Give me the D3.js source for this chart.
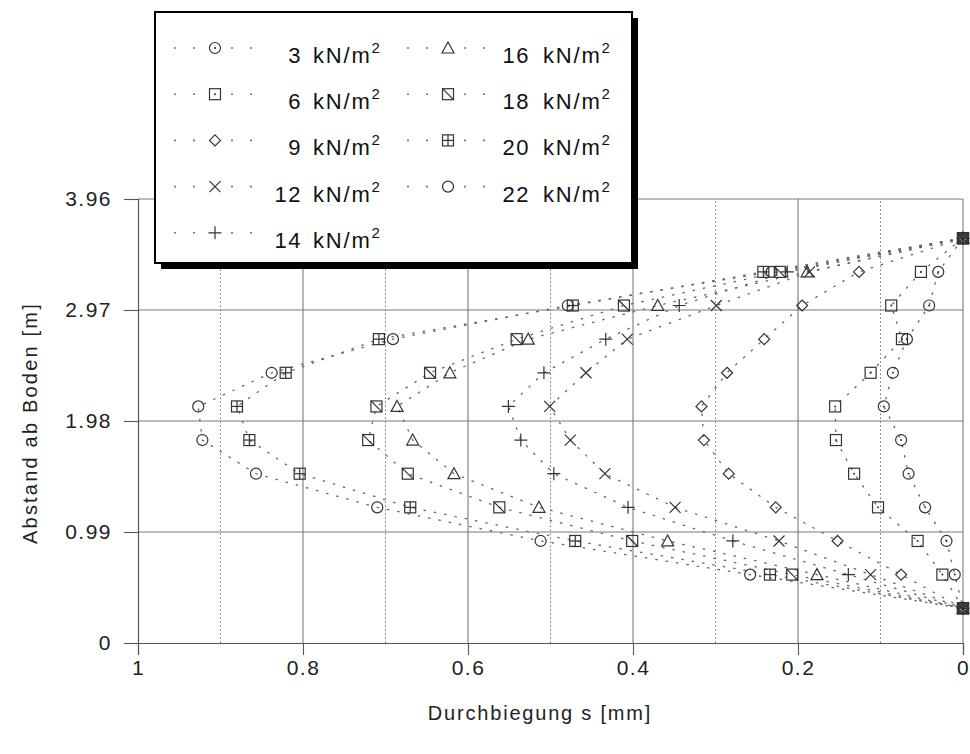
<!DOCTYPE html>
<html><head><meta charset="utf-8">
<script src="https://cdn.jsdelivr.net/npm/d3@7"></script>
<style>body{margin:0;background:#fff}svg{display:block}</style>
</head><body>
<svg id="c" width="970" height="754"></svg>
<script>
// Measurement heights (Abstand ab Boden, m)
const heights = [3.61, 3.31, 3.01, 2.71, 2.41, 2.11, 1.81, 1.51, 1.21, 0.91, 0.61, 0.31];
// Load cases (kN/m2)
const loadLabels = ["3", "6", "9", "12", "14", "16", "18", "20", "22"];
// Deflection s (mm) per load case, at each height above
const s3  = [0, 0.030, 0.041, 0.068, 0.085, 0.096, 0.075, 0.066, 0.046, 0.020, 0.010, 0];
const s6  = [0, 0.051, 0.087, 0.074, 0.112, 0.155, 0.154, 0.132, 0.103, 0.055, 0.025, 0];
const s9  = [0, 0.126, 0.195, 0.241, 0.286, 0.317, 0.314, 0.284, 0.227, 0.152, 0.075, 0];
const s12 = [0, 0.186, 0.299, 0.407, 0.457, 0.501, 0.476, 0.434, 0.349, 0.223, 0.112, 0];
const s14 = [0, 0.213, 0.344, 0.433, 0.508, 0.551, 0.536, 0.496, 0.406, 0.279, 0.139, 0];
const s16 = [0, 0.189, 0.370, 0.527, 0.622, 0.686, 0.667, 0.617, 0.514, 0.358, 0.177, 0];
const s18 = [0, 0.222, 0.411, 0.541, 0.646, 0.711, 0.721, 0.673, 0.562, 0.401, 0.207, 0];
const s20 = [0, 0.242, 0.473, 0.708, 0.821, 0.880, 0.865, 0.804, 0.670, 0.470, 0.234, 0];
const s22 = [0, 0.232, 0.479, 0.691, 0.838, 0.927, 0.922, 0.857, 0.710, 0.512, 0.258, 0];
const markerTypes = ["circleDot", "squareDot", "diamond", "cross", "plus", "triangle", "squareSlash", "squareGrid", "circle"];

const xTicks = [1, 0.8, 0.6, 0.4, 0.2, 0];
const xTickLabels = ["1", "0.8", "0.6", "0.4", "0.2", "0"];
const yTicks = [0, 0.99, 1.98, 2.97, 3.96];
const yTickLabels = ["0", "0.99", "1.98", "2.97", "3.96"];
const xGridSolid = [0.8, 0.6, 0.4, 0.2, 0];
const xGridDotted = [0.9, 0.7, 0.5, 0.3, 0.1];
const yGrid = [0.99, 1.98, 2.97, 3.96];

const seriesValues = [s3, s6, s9, s12, s14, s16, s18, s20, s22];
const series = loadLabels.map((l, i) => ({
  label: l, type: markerTypes[i],
  pts: heights.map((h, j) => ({ s: seriesValues[i][j], h }))
}));

const FONT = "'Liberation Sans', Arial, Helvetica, sans-serif";
const svg = d3.select("#c");
const x = d3.scaleLinear().domain([1, 0]).range([138, 963]);
const y = d3.scaleLinear().domain([0, 3.96]).range([643, 199]);

// grid
const grid = svg.append("g");
grid.selectAll(".hg").data(yGrid).join("line")
  .attr("x1", x(1)).attr("x2", x(0)).attr("y1", d => y(d)).attr("y2", d => y(d))
  .attr("stroke", "#7a7a7a").attr("stroke-width", 1.1);
grid.selectAll(".vs").data(xGridSolid).join("line")
  .attr("x1", d => x(d)).attr("x2", d => x(d)).attr("y1", y(0)).attr("y2", y(3.96))
  .attr("stroke", "#7a7a7a").attr("stroke-width", 1.1);
grid.selectAll(".vd").data(xGridDotted).join("line")
  .attr("x1", d => x(d)).attr("x2", d => x(d)).attr("y1", y(0)).attr("y2", y(3.96))
  .attr("stroke", "#777").attr("stroke-width", 1).attr("stroke-dasharray", "1.5,2.5");

// axes
const xAxis = svg.append("g").attr("transform", `translate(0,${y(0)})`)
  .call(d3.axisBottom(x).tickValues(xTicks).tickSize(12).tickPadding(5)
    .tickFormat((d, i) => xTickLabels[i]));
const yAxis = svg.append("g").attr("transform", `translate(${x(1)},0)`)
  .call(d3.axisLeft(y).tickValues(yTicks).tickSize(14).tickPadding(12)
    .tickFormat((d, i) => yTickLabels[i]));
[xAxis, yAxis].forEach(a => {
  a.select(".domain").attr("stroke", "#555").attr("stroke-width", 1.2);
  a.selectAll(".tick line").attr("stroke", "#555").attr("stroke-width", 1.1);
  a.selectAll(".tick text").attr("font-family", FONT).attr("font-size", 21)
    .attr("letter-spacing", "1.5px").attr("fill", "#222");
});

svg.append("text").attr("x", 540).attr("y", 720).attr("text-anchor", "middle")
  .attr("font-family", FONT).attr("font-size", 20).attr("letter-spacing", "1.8px")
  .attr("fill", "#222").text("Durchbiegung s [mm]");
svg.append("text").attr("transform", "translate(37,423) rotate(-90)").attr("text-anchor", "middle")
  .attr("font-family", FONT).attr("font-size", 20).attr("letter-spacing", "2.2px")
  .attr("fill", "#222").text("Abstand ab Boden [m]");

// marker drawing
function marker(g, type, cx, cy) {
  const m = g.append("g").attr("transform", `translate(${cx},${cy})`)
    .attr("fill", "none").attr("stroke", "#333").attr("stroke-width", 1.2);
  const r = 5.5;
  if (type === "circle" || type === "circleDot") {
    m.append("circle").attr("r", r);
    if (type === "circleDot") m.append("circle").attr("r", 1).attr("fill", "#333").attr("stroke", "none");
  } else if (type.startsWith("square")) {
    m.append("rect").attr("x", -r).attr("y", -r).attr("width", 2 * r).attr("height", 2 * r);
    if (type === "squareDot") m.append("circle").attr("r", 1).attr("fill", "#333").attr("stroke", "none");
    if (type === "squareSlash") m.append("line").attr("x1", -r).attr("y1", -r).attr("x2", r).attr("y2", r);
    if (type === "squareGrid") {
      m.append("line").attr("x1", -r).attr("y1", 0).attr("x2", r).attr("y2", 0);
      m.append("line").attr("x1", 0).attr("y1", -r).attr("x2", 0).attr("y2", r);
    }
  } else if (type === "diamond") {
    m.append("path").attr("d", "M0,-5.5L5.5,0L0,5.5L-5.5,0Z");
  } else if (type === "triangle") {
    m.append("path").attr("d", "M0,-6L6,5L-6,5Z");
  } else if (type === "cross") {
    m.append("path").attr("d", "M-5.5,-5.5L5.5,5.5M-5.5,5.5L5.5,-5.5");
  } else if (type === "plus") {
    m.append("path").attr("d", "M-6.5,0L6.5,0M0,-6.5L0,6.5");
  }
}

// series lines
const line = d3.line().x(d => x(d.s)).y(d => y(d.h));
const lines = svg.append("g");
series.forEach(s => {
  lines.append("path").datum(s.pts).attr("d", line).attr("fill", "none")
    .attr("stroke", "#666").attr("stroke-width", 1.3).attr("stroke-dasharray", "2.5,8");
});
const marks = svg.append("g");
series.forEach(s => s.pts.forEach(p => marker(marks, s.type, x(p.s), y(p.h))));

// legend
const leg = svg.append("g");
leg.append("rect").attr("x", 161).attr("y", 18).attr("width", 477).attr("height", 251).attr("fill", "#000");
leg.append("rect").attr("x", 155).attr("y", 12).attr("width", 477).attr("height", 251)
  .attr("fill", "#fff").attr("stroke", "#000").attr("stroke-width", 2);
series.forEach((s, i) => {
  const col = i < 5 ? 0 : 1;
  const row = i < 5 ? i : i - 5;
  const symY = 48 + 46.2 * row;
  const base = 63 + 46.2 * row;
  const lx0 = col === 0 ? 174 : 407;
  const mx = col === 0 ? 215 : 448;
  const numEnd = col === 0 ? 302 : 530;
  const unitStart = col === 0 ? 313 : 543;
  leg.append("line").attr("x1", lx0).attr("x2", lx0 + 80).attr("y1", symY).attr("y2", symY)
    .attr("stroke", "#777").attr("stroke-width", 1.6).attr("stroke-dasharray", "2,17");
  leg.append("rect").attr("x", mx - 8).attr("y", symY - 8).attr("width", 16).attr("height", 16).attr("fill", "#fff");
  marker(leg, s.type, mx, symY);
  leg.append("text").attr("x", numEnd).attr("y", base).attr("text-anchor", "end")
    .attr("font-family", FONT).attr("font-size", 22).attr("letter-spacing", "1.5px")
    .attr("fill", "#111").text(s.label);
  const t = leg.append("text").attr("x", unitStart).attr("y", base)
    .attr("font-family", FONT).attr("font-size", 22).attr("letter-spacing", "1.8px").attr("fill", "#111");
  t.append("tspan").text("kN/m");
  t.append("tspan").attr("dy", -10).attr("font-size", 15).attr("letter-spacing", "0px").text("2");
});
</script>
</body></html>
